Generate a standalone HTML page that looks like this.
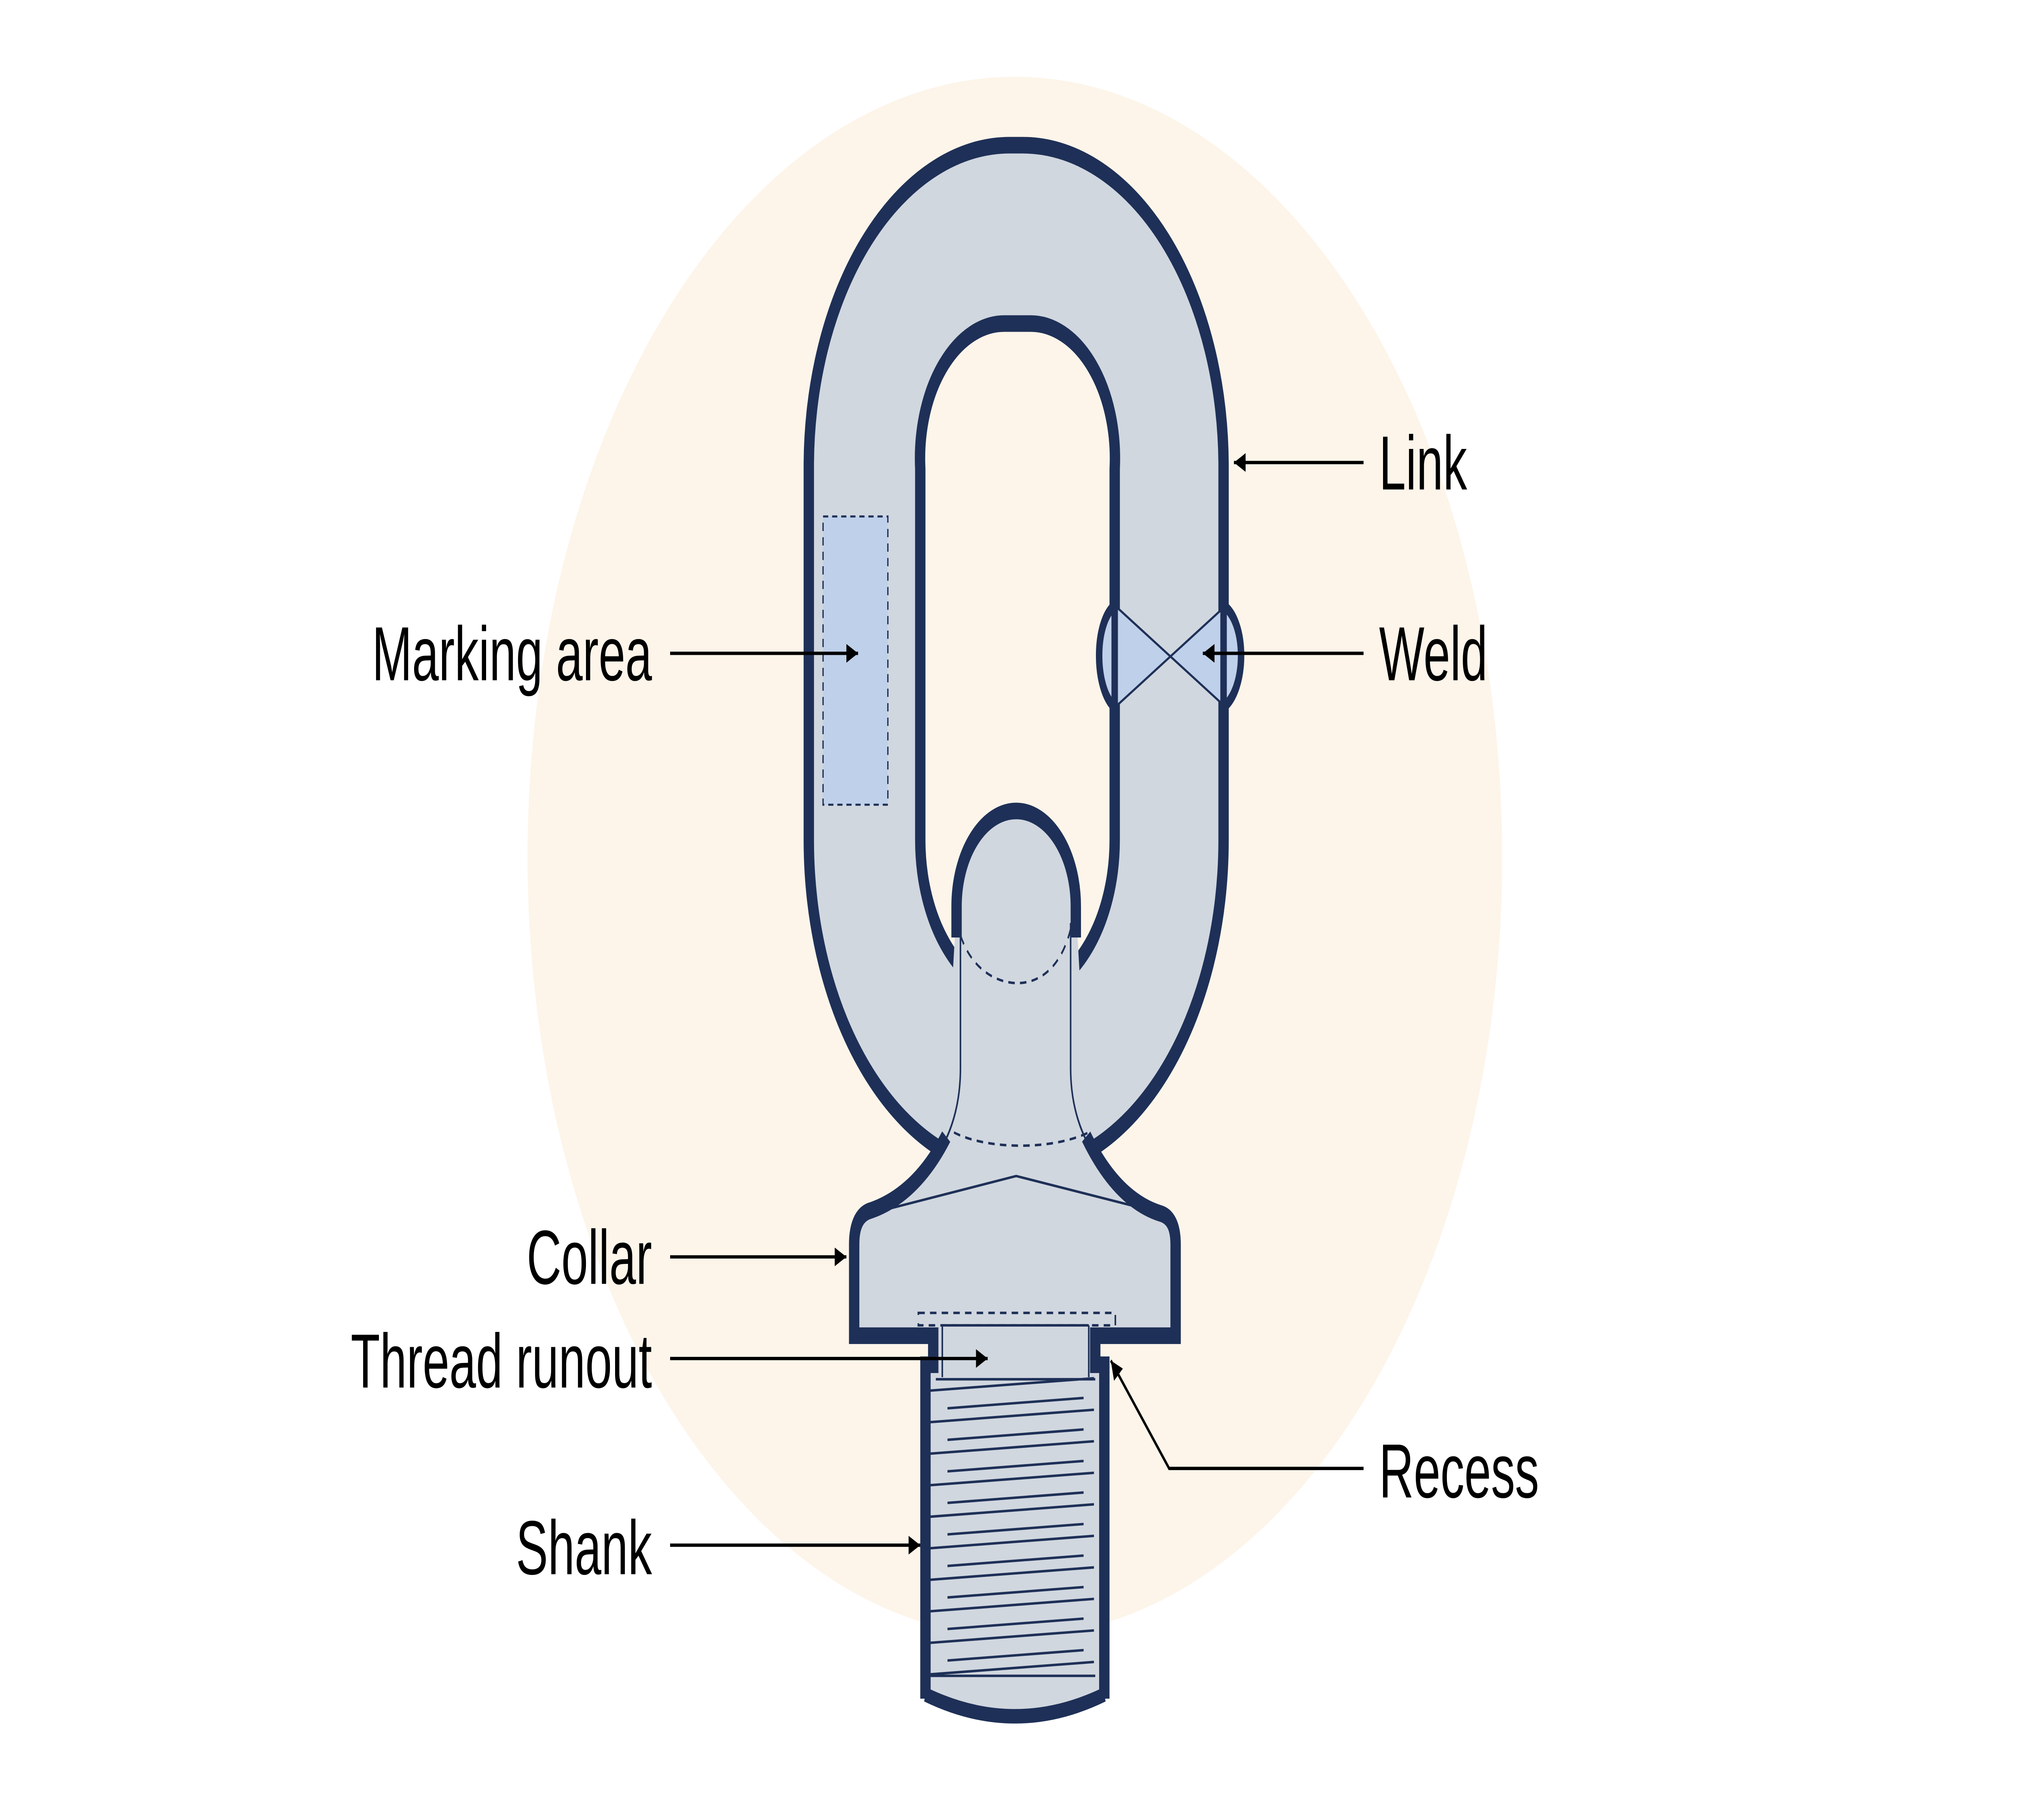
<!DOCTYPE html>
<html><head><meta charset="utf-8"><style>
html,body{margin:0;padding:0;background:#fff;width:100%;height:100%;overflow:hidden;}
svg{display:block;width:100vw;height:100vh;}
</style></head><body>
<svg viewBox="0 0 1560 877.5" preserveAspectRatio="none" xmlns="http://www.w3.org/2000/svg">
<defs>
<marker id="ah" viewBox="0 0 10 10" refX="10" refY="5" markerWidth="20" markerHeight="9" markerUnits="userSpaceOnUse" orient="auto">
<path d="M0,0 L10,5 L0,10 z" fill="#000"/>
</marker>
</defs>
<rect width="1560" height="877.5" fill="#fff"/>
<circle cx="783" cy="413" r="376" fill="#fdf5ea"/>

<!-- Link -->
<path d="M624,225 A155,155 0 0 1 779,70 H789 A155,155 0 0 1 944,225 V405 A160,160 0 0 1 624,405 Z" fill="#d1d7df" stroke="#1e3057" stroke-width="8"/>
<path d="M710,226 A65,65 0 0 1 775,156 H795 A65,65 0 0 1 860,226 V405 A75,75 0 0 1 710,405 Z" fill="#fdf5ea" stroke="#1e3057" stroke-width="8"/>

<!-- marking area -->
<rect x="635" y="249" width="50" height="139" fill="#bfd0ea" stroke="#1e3057" stroke-width="1" stroke-dasharray="4,3"/>

<!-- weld -->
<polygon points="862,293 903,316 862,340" fill="#bfd0ea"/>
<polygon points="944,293 903,316 944,340" fill="#bfd0ea"/>
<path d="M860,292 C844,300 844,332 860,341 Z" fill="#bfd0ea" stroke="#1e3057" stroke-width="5" stroke-linejoin="round"/>
<path d="M944,292 C962,300 962,332 944,341 Z" fill="#bfd0ea" stroke="#1e3057" stroke-width="5" stroke-linejoin="round"/>
<line x1="862" y1="293" x2="944" y2="340" stroke="#1e3057" stroke-width="1.2"/>
<line x1="862" y1="340" x2="944" y2="293" stroke="#1e3057" stroke-width="1.2"/>

<!-- body fill -->
<path d="M738,437 A46,46 0 0 1 830,437 L840,548 C855,570 875,581 895,585 Q907,587 907,600 V644 H841 V658 H848 V817 Q780,835 712,817 V658 H720 V644 H659 V600 Q659,587 670,584 C690,580 712,570 728,548 Z" fill="#d1d7df"/>

<!-- body thick outlines -->
<path d="M738,452 V437 A46,46 0 0 1 830,437 V452" fill="none" stroke="#1e3057" stroke-width="8"/>
<path d="M730,548 C712,570 690,580 670,584 Q659,587 659,600 V644 H720 V658 H714 V819" fill="none" stroke="#1e3057" stroke-width="8"/>
<path d="M838,548 C855,570 875,581 895,585 Q907,587 907,600 V644 H845 V658 H852 V819" fill="none" stroke="#1e3057" stroke-width="8"/>
<path d="M714,817 Q783,838 852,817" fill="none" stroke="#1e3057" stroke-width="7"/>

<!-- thin body lines -->
<g fill="none" stroke="#1e3057" stroke-width="1.2">
<path d="M741,445 V515 C741,545 720,570 672,585"/>
<path d="M826,445 V515 C826,545 848,570 897,585"/>
<path d="M672,585 L784,567 L897,585"/>
<line x1="727" y1="639" x2="727" y2="664"/>
<line x1="840" y1="639" x2="840" y2="664"/>
<line x1="727" y1="639" x2="840" y2="639"/>
<line x1="722" y1="665" x2="845" y2="665"/>
<line x1="718" y1="808" x2="845" y2="808"/>
</g>
<g fill="none" stroke="#1e3057" stroke-width="1.2" stroke-dasharray="5,4">
<path d="M741,451 C750,468 770,474 785,474 C800,474 818,468 826,448"/>
<path d="M736,546 C760,554 810,555 840,546"/>
<rect x="708.5" y="633" width="152" height="6"/>
</g>

<!-- threads -->
<g stroke="#1e3057" stroke-width="1.2">
<line x1="717" y1="670.5" x2="844" y2="664.5"/>
<line x1="717" y1="685.7" x2="844" y2="679.7"/>
<line x1="717" y1="700.9" x2="844" y2="694.9"/>
<line x1="717" y1="716.1" x2="844" y2="710.1"/>
<line x1="717" y1="731.3" x2="844" y2="725.3"/>
<line x1="717" y1="746.5" x2="844" y2="740.5"/>
<line x1="717" y1="761.7" x2="844" y2="755.7"/>
<line x1="717" y1="776.9" x2="844" y2="770.9"/>
<line x1="717" y1="792.1" x2="844" y2="786.1"/>
<line x1="717" y1="807.3" x2="844" y2="801.3"/>
<line x1="731" y1="679" x2="836" y2="674"/>
<line x1="731" y1="694.2" x2="836" y2="689.2"/>
<line x1="731" y1="709.4" x2="836" y2="704.4"/>
<line x1="731" y1="724.6" x2="836" y2="719.6"/>
<line x1="731" y1="739.8" x2="836" y2="734.8"/>
<line x1="731" y1="755" x2="836" y2="750"/>
<line x1="731" y1="770.2" x2="836" y2="765.2"/>
<line x1="731" y1="785.4" x2="836" y2="780.4"/>
<line x1="731" y1="800.6" x2="836" y2="795.6"/>
</g>

<!-- connectors -->
<g stroke="#000" stroke-width="1.6" fill="none" marker-end="url(#ah)">
<line x1="1052" y1="223" x2="952" y2="223"/>
<line x1="1052" y1="315" x2="928" y2="315"/>
<line x1="517" y1="315" x2="662" y2="315"/>
<line x1="517" y1="606" x2="653" y2="606"/>
<line x1="517" y1="655" x2="762" y2="655"/>
<line x1="517" y1="745" x2="710" y2="745"/>
<polyline points="1052,708 902,708 857,656"/>
</g>

<!-- labels -->
<g font-family="'Liberation Sans', sans-serif" font-size="37" fill="#000">
<text x="1064" y="236">Link</text>
<text x="1064" y="328">Weld</text>
<text x="1064" y="722">Recess</text>
<g text-anchor="end">
<text x="503" y="328">Marking area</text>
<text x="503" y="619">Collar</text>
<text x="503" y="669">Thread runout</text>
<text x="503" y="759">Shank</text>
</g>
</g>
</svg>
</body></html>
